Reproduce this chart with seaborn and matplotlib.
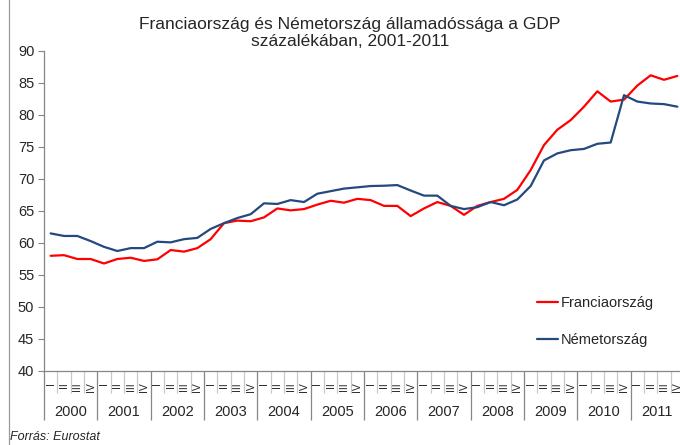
import numpy as np
import pandas as pd
import matplotlib
matplotlib.use("Agg")
import matplotlib.pyplot as plt
import seaborn as sns
from matplotlib.lines import Line2D

years = [str(y) for y in range(2000, 2012)]
quarters = ["I", "II", "III", "IV"]

france = [58.0, 58.1, 57.5, 57.5, 56.8, 57.5, 57.7, 57.2,
          57.45, 58.9, 58.65, 59.2, 60.6, 63.1, 63.5, 63.4,
          64.0, 65.4, 65.1, 65.3, 66.0, 66.6, 66.3, 66.9,
          66.7, 65.8, 65.8, 64.2, 65.4, 66.4, 65.8, 64.4,
          65.8, 66.4, 66.9, 68.3, 71.4, 75.3, 77.7, 79.2,
          81.3, 83.7, 82.1, 82.4, 84.6, 86.2, 85.5, 86.1]
germany = [61.5, 61.1, 61.1, 60.3, 59.4, 58.75, 59.2, 59.2,
           60.2, 60.1, 60.6, 60.8, 62.2, 63.1, 63.9, 64.5,
           66.2, 66.1, 66.7, 66.4, 67.7, 68.1, 68.5, 68.7,
           68.9, 68.95, 69.05, 68.2, 67.4, 67.4, 65.8, 65.3,
           65.6, 66.4, 65.9, 66.8, 68.9, 72.9, 74.0, 74.5,
           74.7, 75.5, 75.7, 83.1, 82.1, 81.8, 81.7, 81.3]

df = pd.DataFrame({
    "idx": np.arange(len(france)),
    "Franciaország": france,
    "Németország": germany,
})

sns.set_style("white")
plt.rcParams["font.family"] = ["Liberation Sans", "DejaVu Sans"]

fig = plt.figure(figsize=(6.8, 4.45), dpi=100)
ax = fig.add_axes([44 / 680, 1 - 371 / 445, 640 / 680, 320 / 445])

sns.lineplot(data=df, x="idx", y="Franciaország", color="#FF0000",
             linewidth=1.6, label="Franciaország", ax=ax)
sns.lineplot(data=df, x="idx", y="Németország", color="#23497E",
             linewidth=1.6, label="Németország", ax=ax)

n = len(france)
ax.set_xlim(-0.5, n - 0.5)
ax.set_ylim(40, 90)
ax.set_yticks(range(40, 91, 5))
ax.set_xlabel("")
ax.set_ylabel("")
ax.set_xticks(range(n))
ax.set_xticklabels(quarters * len(years), rotation=90, fontsize=7.5)
ax.tick_params(axis="x", length=0, pad=8)
ax.tick_params(axis="y", length=4, width=0.8, color="#868686",
               labelsize=10.5, left=True, pad=3)
for s in ["top", "right"]:
    ax.spines[s].set_visible(False)
for s in ["left", "bottom"]:
    ax.spines[s].set_color("#868686")
    ax.spines[s].set_linewidth(0.9)

# separators under the axis
tr = ax.get_xaxis_transform()
bounds = np.arange(n + 1) - 0.5
q_bounds = [b for i, b in enumerate(bounds) if i % 4 != 0]
y_bounds = [b for i, b in enumerate(bounds) if i % 4 == 0]
ax.vlines(q_bounds, -22 / 320, 0, transform=tr, colors="#C8C8C8",
          linewidth=0.9, clip_on=False)
ax.vlines(y_bounds, -49 / 320, 0, transform=tr, colors="#868686",
          linewidth=0.9, clip_on=False)
for k, y in enumerate(years):
    ax.text(4 * k + 1.5, -41 / 320, y, transform=tr, ha="center",
            va="center", fontsize=10.5)

leg = ax.legend(loc="upper left", bbox_to_anchor=(480 / 640, (371 - 283) / 320),
                frameon=False, fontsize=10.5, handlelength=1.45,
                handletextpad=0.15, labelspacing=1.55)

fig.text(350 / 680, 1 - 33 / 445,
         "Franciaország és Németország államadóssága a GDP\nszázalékában, 2001-2011",
         ha="center", va="center", fontsize=12.5, linespacing=1.1)
fig.text(10 / 680, 1 - 437 / 445, "Forrás: Eurostat", style="italic",
         ha="left", va="center", fontsize=9)
fig.add_artist(Line2D([8.5 / 680, 8.5 / 680], [0, 1], color="#9A9A9A",
                      linewidth=0.9, transform=fig.transFigure))

fig.savefig("out.png", dpi=100)
